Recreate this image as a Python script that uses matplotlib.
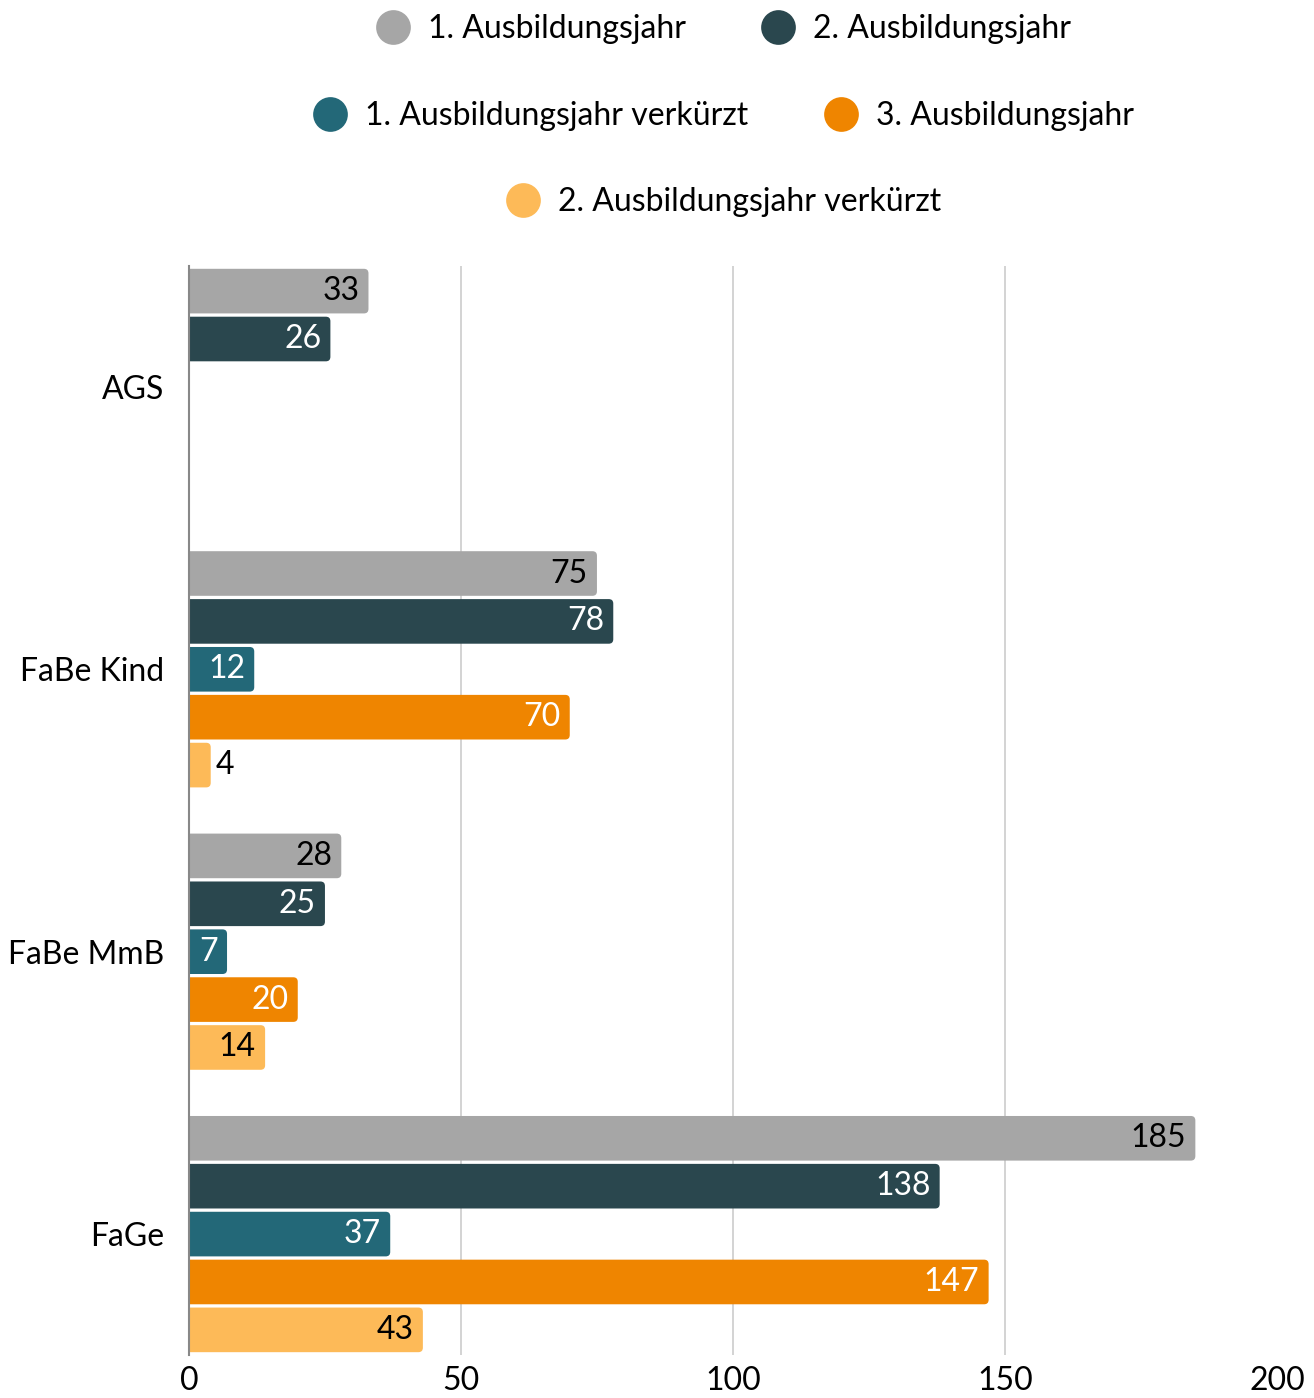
import numpy as np
import matplotlib.pyplot as plt
from matplotlib.patches import FancyBboxPatch
from matplotlib.lines import Line2D

plt.rcParams['font.family'] = ['Lato', 'DejaVu Sans']

# Daten
kategorien = ['AGS', 'FaBe Kind', 'FaBe MmB', 'FaGe']
serien = ['1. Ausbildungsjahr', '2. Ausbildungsjahr', '1. Ausbildungsjahr verkürzt',
          '3. Ausbildungsjahr', '2. Ausbildungsjahr verkürzt']
werte = [
    [33, 75, 28, 185],
    [26, 78, 25, 138],
    [None, 12, 7, 37],
    [None, 70, 20, 147],
    [None, 4, 14, 43],
]
farben = ['#a6a6a6', '#2a474e', '#236878', '#ef8500', '#fdba58']
textfarben = ['black', 'white', 'white', 'white', 'black']
x_ticks = [0, 50, 100, 150, 200]

fs = 23

fig = plt.figure(figsize=(13.14, 13.98), dpi=100)
ax = fig.add_axes([0.1438, 0.0308, 0.828, 0.7789])

schritt = 0.1696
hoehe = 0.158
px_x = 0.828 * 1314 / 200.0          # Pixel pro Einheit x
px_y = 0.7789 * 1398 / 3.856         # Pixel pro Einheit y
rund = 4.5 / px_x
aspekt = px_x / px_y

for j, (name, vals) in enumerate(zip(serien, werte)):
    for i, v in enumerate(vals):
        if v is None:
            continue
        y = i + (j - 2) * schritt
        p = FancyBboxPatch((-2, y - hoehe / 2), v + 2, hoehe,
                           boxstyle=f'round,pad=0,rounding_size={rund}',
                           mutation_aspect=aspekt, facecolor=farben[j],
                           edgecolor='none', zorder=3)
        ax.add_patch(p)
        if v < 5:
            ax.text(v + 1.0, y, str(v), ha='left', va='center', fontsize=fs,
                    color='black', zorder=4)
        else:
            ax.text(v - 1.7, y, str(v), ha='right', va='center', fontsize=fs,
                    color=textfarben[j], zorder=4)

ax.set_xlim(0, 200)
ax.set_ylim(3.428, -0.428)
ax.set_yticks(range(len(kategorien)))
ax.set_yticklabels(kategorien, fontsize=fs)
ax.set_xticks(x_ticks)
ax.set_xticklabels([str(t) for t in x_ticks], fontsize=fs)
ax.tick_params(axis='y', length=0, pad=18)
ax.tick_params(axis='x', length=0, pad=8)
for t in x_ticks[1:-1]:
    ax.axvline(t, color='#cccccc', lw=1.2, zorder=1)
for s in ['top', 'right', 'bottom']:
    ax.spines[s].set_visible(False)
ax.spines['left'].set_color('#888888')
ax.spines['left'].set_linewidth(1.5)
ax.spines['left'].set_zorder(5)

# Legende in drei Zeilen
def griff(j):
    return Line2D([], [], marker='o', linestyle='none', markersize=25,
                  markerfacecolor=farben[j], markeredgecolor='none')

zeilen = [([0, 1], 0.9793), ([2, 3], 0.917), ([4], 0.8555)]
for idx, yy in zeilen:
    fig.legend([griff(j) for j in idx], [serien[j] for j in idx],
               loc='center', bbox_to_anchor=(0.551, yy), ncol=len(idx),
               frameon=False, fontsize=fs, handletextpad=0.6,
               columnspacing=2.4, handlelength=1.0)

fig.savefig('out.png', dpi=100)
